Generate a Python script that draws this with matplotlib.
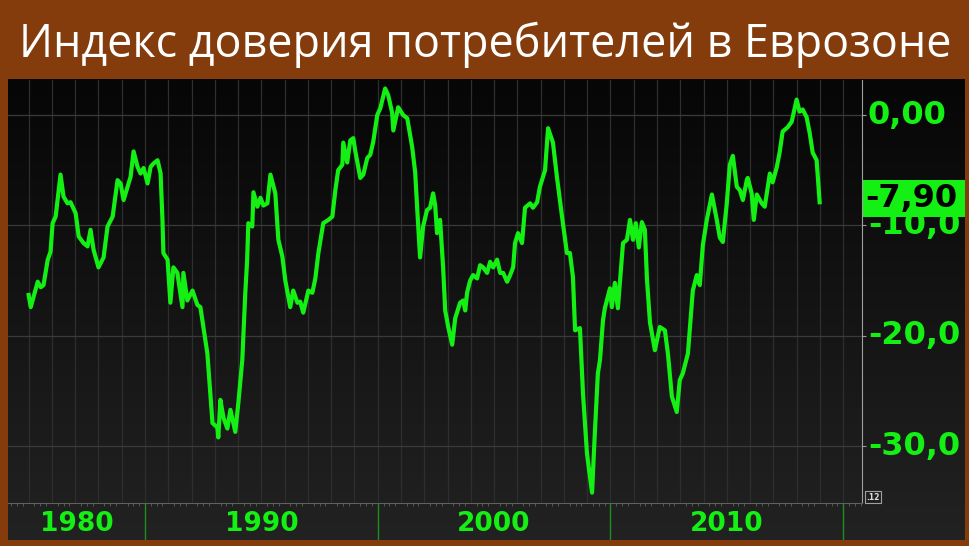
import numpy as np
import matplotlib
matplotlib.use("Agg")
from matplotlib import pyplot as plt
from matplotlib.colors import LinearSegmentedColormap
from matplotlib.patches import Rectangle
from matplotlib.transforms import blended_transform_factory

# values (decimal year, index value)
years = [1985.00, 1985.09, 1985.39, 1985.52, 1985.64, 1985.82, 1985.94, 1986.03, 1986.16, 1986.37,
         1986.50, 1986.67, 1986.80, 1987.02, 1987.15, 1987.36, 1987.53, 1987.66, 1987.79, 1988.00,
         1988.22, 1988.39, 1988.61, 1988.82, 1988.95, 1989.08, 1989.25, 1989.38, 1989.51, 1989.68,
         1989.81, 1989.94, 1990.11, 1990.24, 1990.36, 1990.54, 1990.67, 1990.75, 1990.79, 1990.97,
         1991.09, 1991.22, 1991.39, 1991.61, 1991.65, 1991.82, 1992.04, 1992.25, 1992.38, 1992.51,
         1992.68, 1992.90, 1993.11, 1993.15, 1993.24, 1993.37, 1993.54, 1993.67, 1993.88, 1994.01,
         1994.18, 1994.31, 1994.39, 1994.44, 1994.61, 1994.66, 1994.83, 1994.96, 1995.09, 1995.26,
         1995.39, 1995.60, 1995.73, 1995.90, 1996.03, 1996.24, 1996.37, 1996.55, 1996.67, 1996.80,
         1997.02, 1997.19, 1997.32, 1997.45, 1997.66, 1997.88, 1998.05, 1998.18, 1998.30, 1998.48,
         1998.52, 1998.69, 1998.82, 1998.95, 1999.03, 1999.25, 1999.38, 1999.55, 1999.68, 1999.81,
         1999.98, 2000.11, 2000.32, 2000.45, 2000.62, 2000.67, 2000.88, 2001.09, 2001.27, 2001.48,
         2001.61, 2001.70, 2001.82, 2001.95, 2002.12, 2002.25, 2002.38, 2002.47, 2002.55, 2002.68,
         2002.81, 2002.90, 2003.03, 2003.20, 2003.33, 2003.54, 2003.67, 2003.76, 2003.84, 2003.97,
         2004.10, 2004.27, 2004.40, 2004.53, 2004.70, 2004.83, 2004.96, 2005.13, 2005.26, 2005.39,
         2005.56, 2005.69, 2005.82, 2005.90, 2006.03, 2006.20, 2006.33, 2006.55, 2006.67, 2006.85,
         2006.97, 2007.19, 2007.32, 2007.53, 2007.70, 2007.92, 2008.13, 2008.26, 2008.39, 2008.48,
         2008.69, 2008.82, 2008.99, 2009.03, 2009.21, 2009.33, 2009.46, 2009.55, 2009.68, 2009.76,
         2009.98, 2010.06, 2010.19, 2010.32, 2010.54, 2010.71, 2010.84, 2010.97, 2011.09, 2011.22,
         2011.35, 2011.48, 2011.57, 2011.70, 2011.91, 2012.12, 2012.34, 2012.47, 2012.64, 2012.85,
         2012.98, 2013.11, 2013.33, 2013.54, 2013.71, 2013.84, 2013.97, 2014.14, 2014.36, 2014.57,
         2014.70, 2014.83, 2015.00, 2015.13, 2015.26, 2015.43, 2015.56, 2015.69, 2015.86, 2015.90,
         2016.07, 2016.16, 2016.29, 2016.50, 2016.63, 2016.85, 2016.97, 2017.15, 2017.27, 2017.40,
         2017.62, 2017.79, 2018.00, 2018.13, 2018.26, 2018.43, 2018.56, 2018.69, 2018.86, 2018.99]
values = [-16.3, -17.4, -15.1, -15.6, -15.4, -13.1, -12.4, -9.8, -9.2, -5.4,
          -7.4, -8.0, -7.9, -8.9, -11.0, -11.6, -11.9, -10.4, -12.2, -13.8,
          -12.9, -10.1, -9.2, -5.9, -6.2, -7.7, -6.5, -5.6, -3.3, -4.7,
          -5.3, -4.8, -6.2, -4.7, -4.4, -4.1, -5.3, -9.5, -12.5, -13.1,
          -17.0, -13.8, -14.3, -17.4, -14.3, -16.8, -15.9, -17.2, -17.4, -19.2,
          -21.6, -27.9, -28.3, -29.2, -25.8, -27.4, -28.4, -26.7, -28.7, -26.1,
          -22.2, -16.1, -13.1, -9.8, -10.1, -7.0, -8.3, -7.5, -8.2, -8.0,
          -5.4, -7.1, -11.3, -12.8, -15.0, -17.4, -15.9, -17.0, -16.9, -17.9,
          -15.9, -16.1, -14.8, -12.5, -9.8, -9.5, -9.2, -6.8, -5.0, -4.5,
          -2.5, -4.3, -2.3, -2.1, -3.2, -5.7, -5.4, -3.9, -3.6, -2.4,
          0.0, 0.6, 2.4, 1.8, 0.2, -1.4, 0.7, 0.0, -0.3, -2.9,
          -5.2, -8.6, -12.9, -10.1, -8.6, -8.4, -7.1, -8.2, -10.7, -9.5,
          -13.8, -17.7, -19.2, -20.8, -18.4, -17.0, -16.8, -17.7, -16.1, -15.0,
          -14.5, -14.8, -13.6, -13.8, -14.3, -13.3, -13.8, -13.1, -14.3, -14.3,
          -15.1, -14.5, -13.8, -11.6, -10.7, -11.6, -8.4, -8.0, -8.4, -7.9,
          -6.5, -5.0, -1.2, -2.5, -5.6, -9.2, -12.5, -12.5, -14.7, -19.5,
          -19.3, -25.2, -30.6, -31.3, -34.2, -28.8, -23.4, -22.2, -18.6, -17.5,
          -15.7, -17.4, -15.2, -17.5, -11.6, -11.3, -9.5, -11.3, -9.8, -12.0,
          -9.7, -10.4, -14.9, -18.8, -21.3, -19.2, -19.5, -21.6, -25.5, -26.9,
          -24.0, -23.4, -21.6, -15.9, -14.5, -15.4, -11.8, -9.5, -7.2, -9.5,
          -11.1, -11.5, -8.0, -4.5, -3.7, -6.5, -6.8, -7.7, -5.9, -5.7,
          -7.1, -9.5, -7.2, -8.0, -8.3, -5.3, -6.1, -4.7, -3.4, -1.5,
          -1.1, -0.6, 1.4, 0.3, 0.5, -0.2, -1.6, -3.4, -4.1, -7.9]

y_ticks = [0, -10, -20, -30]
y_tick_labels = ["0,00", "-10,0", "-20,0", "-30,0"]
decades = [1980, 1990, 2000, 2010]
last_label = "-7,90"
title = "Индекс доверия потребителей в Еврозоне"

W, H = 970, 546
brown = "#843c0c"
green = "#14f014"
x_min, x_max = 1984.113, 2020.81


def box(x0, y0, x1, y1):
    # pixel box with origin at top-left -> figure fraction rect
    return [x0 / W, 1 - y1 / H, (x1 - x0) / W, (y1 - y0) / H]


fig = plt.figure(figsize=(W / 100, H / 100), dpi=100, facecolor=brown)

# dark panel with vertical gradient
panel = fig.add_axes(box(8, 79, 965, 540))
grad = np.linspace(0, 1, 256).reshape(-1, 1)
cmap = LinearSegmentedColormap.from_list("bg", ["#060606", "#222222"])
panel.imshow(grad, aspect="auto", cmap=cmap, extent=[0, 1, 0, 1], origin="upper")
panel.set_xlim(0, 1)
panel.set_ylim(0, 1)
panel.axis("off")

# main plot
ax = fig.add_axes(box(8, 80, 862, 503))
ax.set_facecolor("none")
ax.plot(years, values, color=green, lw=3, solid_joinstyle="round", zorder=3)
ax.set_xlim(x_min, x_max)
ax.set_ylim(-35.14, 3.17)
ax.set_xticks(range(1985, 2021))
ax.set_xticks(np.arange(1984.25, 2020.8, 0.25), minor=True)
ax.set_yticks(y_ticks)
ax.xaxis.grid(True, color="#2e2e2e", lw=0.9)
ax.yaxis.grid(True, color="#3a3a3a", lw=0.9)
ax.tick_params(axis="x", which="major", length=0, labelbottom=False)
ax.tick_params(axis="x", which="minor", length=2, color="#4a704a", direction="out")
ax.yaxis.tick_right()
ax.tick_params(axis="y", length=3, color="#9a9a9a", labelright=False, direction="out")
for side in ["left", "top"]:
    ax.spines[side].set_visible(False)
ax.spines["right"].set_color("#a0a0a0")
ax.spines["bottom"].set_color("#606060")

# right axis labels, clipped by the panel edge
ytrans = blended_transform_factory(ax.transAxes, ax.transData)
for v, s in zip(y_ticks, y_tick_labels):
    panel.text(1 + 6 / 854, v, s, transform=ytrans, color=green, fontsize=23,
               fontweight="bold", ha="left", va="center", clip_on=True, zorder=3)

last = values[-1] + 0.3
tag = Rectangle((1.0, last - 1.68), 103 / 854, 3.36, transform=ytrans,
                facecolor=green, edgecolor="none", zorder=4)
panel.add_artist(tag)
panel.text(1 + 3 / 854, last, last_label, transform=ytrans, color="black", fontsize=23,
           fontweight="bold", ha="left", va="center", clip_on=True, zorder=5)

fig.text(866 / W, 1 - 497 / H, ".12", color="#dddddd", fontsize=5.5, fontweight="bold",
         va="center", ha="left",
         bbox=dict(boxstyle="square,pad=0.15", fc="none", ec="#a0a0a0", lw=0.8))

# bottom band with decade labels
band = fig.add_axes(box(8, 503, 862, 540))
band.set_facecolor("none")
band.set_xlim(x_min, x_max)
band.set_ylim(0, 1)
band.axis("off")
band.vlines([1990, 2000, 2010, 2020], 0, 1, color="#1f8f1f", lw=1)
for d in decades:
    lo, hi = max(d, x_min), min(d + 10, x_max)
    band.text((lo + hi) / 2, 0.42, str(d), color=green, fontsize=19, fontweight="bold",
              ha="center", va="center")

# title, scaled to the width of the reference title
t = fig.text(0.5, 1 - 57 / H, title, color="white", fontsize=32, family="Open Sans",
             ha="center", va="baseline")
r = fig.canvas.get_renderer()
w = t.get_window_extent(r).width
t.set_fontsize(32 * 934 / w)

fig.savefig("out.png", dpi=100, facecolor=brown)
